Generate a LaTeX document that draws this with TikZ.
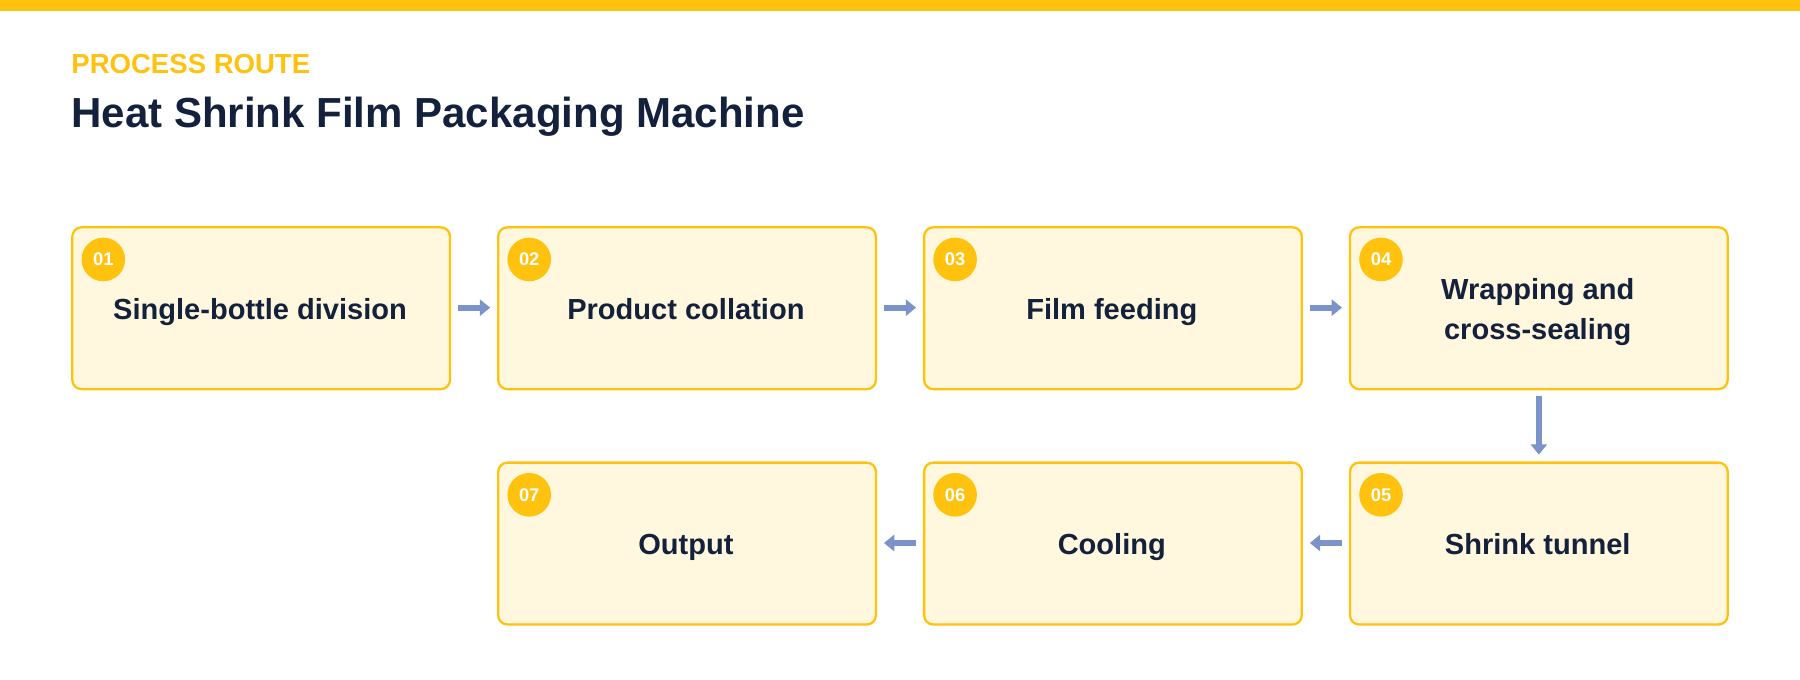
\documentclass[tikz,border=0pt]{standalone}
\usepackage{fontspec}
\setmainfont{Liberation Sans}
\usetikzlibrary{arrows.meta}
\definecolor{ylw}{HTML}{FFC20E}
\definecolor{boxfill}{HTML}{FFF8DE}
\definecolor{navy}{HTML}{14213D}
\definecolor{arr}{HTML}{7B93C8}
\begin{document}
\begin{tikzpicture}[x=1pt,y=-1pt,
  pbox/.style={draw=ylw,line width=2pt,fill=boxfill,rounded corners=8pt,minimum width=329pt,minimum height=141pt,anchor=north west,inner sep=0pt},
  lbl/.style={font=\fontsize{25.3}{35}\selectfont\bfseries,text=navy,align=center},
  one/.style={text height=18pt,text depth=6pt},
  badge/.style={circle,fill=ylw,minimum size=38pt,inner sep=0pt,text=white,font=\fontsize{16}{16}\selectfont\bfseries},
  flow/.style={draw=arr,line width=5pt,-{Triangle[length=9pt,width=14pt]},shorten <=6pt,shorten >=6pt}]
\useasboundingbox (0,0) rectangle (1568,592);
\fill[white] (0,0) rectangle (1568,592);
\fill[ylw] (0,0) rectangle (1568,10);
\node[anchor=west,text=ylw,font=\fontsize{24}{28}\selectfont\bfseries,inner sep=0pt] (sub) at (62,56) {PROCESS ROUTE};
\node[anchor=west,text=navy,font=\fontsize{36.6}{42}\selectfont\bfseries,inner sep=0pt] (ttl) at (62,102) {Heat Shrink Film Packaging Machine};
\node[pbox] (b1) at (62,197) {};
\node[pbox] (b2) at (433,197) {};
\node[pbox] (b3) at (804,197) {};
\node[pbox] (b4) at (1175,197) {};
\node[pbox] (b5) at (1175,402) {};
\node[pbox] (b6) at (804,402) {};
\node[pbox] (b7) at (433,402) {};
\node[lbl,one] (t1) at (226.5,272) {Single-bottle division};
\node[lbl,one] (t2) at (597.5,272) {Product collation};
\node[lbl,one] (t3) at (968.5,272) {Film feeding};
\node[lbl] (t4) at (1339.5,272) {Wrapping and\\cross-sealing};
\node[lbl,one] (t5) at (1339.5,477) {Shrink tunnel};
\node[lbl,one] (t6) at (968.5,477) {Cooling};
\node[lbl,one] (t7) at (597.5,477) {Output};
\node[badge] (c1) at (90,226) {01};
\node[badge] (c2) at (461,226) {02};
\node[badge] (c3) at (832,226) {03};
\node[badge] (c4) at (1203,226) {04};
\node[badge] (c5) at (1203,431) {05};
\node[badge] (c6) at (832,431) {06};
\node[badge] (c7) at (461,431) {07};
\draw[flow] (b1.east |- 0,268) -- (b2.west |- 0,268);
\draw[flow] (b2.east |- 0,268) -- (b3.west |- 0,268);
\draw[flow] (b3.east |- 0,268) -- (b4.west |- 0,268);
\draw[flow,shorten <=5pt] (b4.south) -- (b5.north);
\draw[flow] (b5.west |- 0,473) -- (b6.east |- 0,473);
\draw[flow] (b6.west |- 0,473) -- (b7.east |- 0,473);
\end{tikzpicture}
\end{document}
